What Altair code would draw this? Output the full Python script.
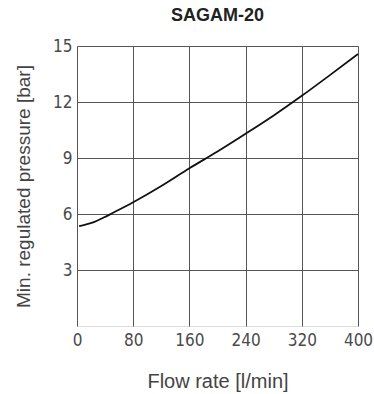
import altair as alt
import pandas as pd

flow = [3, 12, 25, 38, 50, 80, 120, 160, 200, 240, 280, 320, 360, 400]
pressure = [5.35, 5.43, 5.58, 5.81, 6.04, 6.63, 7.5, 8.45, 9.35, 10.3, 11.28, 12.33, 13.44, 14.57]
x_ticks = [0, 80, 160, 240, 320, 400]
y_ticks = [3, 6, 9, 12, 15]

df = pd.DataFrame({"flow": flow, "pressure": pressure})

tick_font = "Liberation Sans Narrow, DejaVu Sans Condensed, sans-serif"
text_font = "Liberation Sans, Arial, sans-serif"

chart = alt.Chart(df).mark_line(color="#111111", strokeWidth=1.8, interpolate="monotone").encode(
    x=alt.X("flow:Q", scale=alt.Scale(domain=[0, 400], nice=False),
            axis=alt.Axis(values=x_ticks, title="Flow rate [l/min]", grid=True,
                          gridColor="#555555", gridWidth=1, domain=False, ticks=False, tickSize=0,
                          labelPadding=6, labelFont=tick_font, labelFontSize=17, labelColor="#4a4a4a",
                          labelFlush=False,
                          titleFont=text_font, titleFontSize=20, titleFontWeight="normal",
                          titleColor="#444444", titleY=55, titleBaseline="middle")),
    y=alt.Y("pressure:Q", scale=alt.Scale(domain=[0, 15], nice=False),
            axis=alt.Axis(values=y_ticks, title="Min. regulated pressure [bar]", grid=True,
                          gridColor="#555555", gridWidth=1, domain=False, ticks=False, tickSize=0,
                          labelPadding=5, labelFont=tick_font, labelFontSize=17, labelColor="#4a4a4a",
                          labelFlush=False,
                          titleFont=text_font, titleFontSize=19, titleFontWeight="normal",
                          titleColor="#444444", titleAngle=270, titleX=-54, titleY=140,
                          titleBaseline="middle", titleAlign="center")),
).properties(
    width=281,
    height=280,
    title=alt.TitleParams("SAGAM-20", font=text_font, fontSize=18, fontWeight="bold",
                          color="#222222", anchor="middle", offset=12),
    autosize=alt.AutoSizeParams(type="none"),
    padding={"left": 77, "top": 46, "right": 16, "bottom": 68},
).configure_view(stroke="#333333", strokeWidth=1).configure(background="white")

chart.save("out.html", embed_options={"renderer": "svg", "actions": False})
